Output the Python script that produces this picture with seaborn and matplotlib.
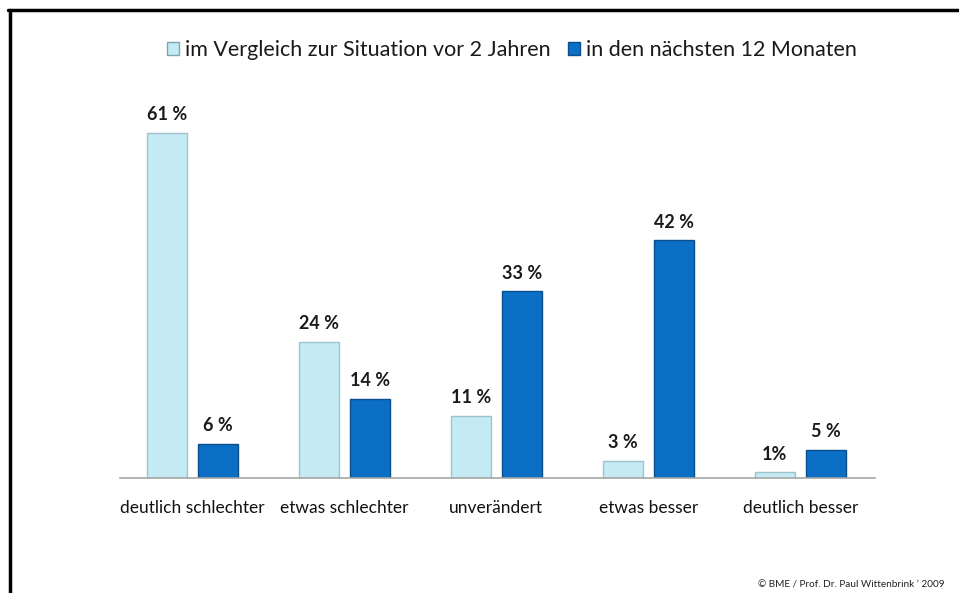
import pandas as pd
import numpy as np
import matplotlib.pyplot as plt
import seaborn as sns
from matplotlib.lines import Line2D
from matplotlib.patches import Patch

sns.set_theme(style="white")
plt.rcParams['font.family'] = ['Lato', 'DejaVu Sans']

# data
categories = ['deutlich schlechter', 'etwas schlechter', 'unverändert', 'etwas besser', 'deutlich besser']
series_names = ['im Vergleich zur Situation vor 2 Jahren', 'in den nächsten 12 Monaten']
vor_2_jahren = [61, 24, 11, 3, 1]
naechste_12_monate = [6, 14, 33, 42, 5]
labels_vor = ['61 %', '24 %', '11 %', '3 %', '1%']
labels_naechste = ['6 %', '14 %', '33 %', '42 %', '5 %']

df = pd.DataFrame({
    'Kategorie': categories * 2,
    'Reihe': [series_names[0]] * 5 + [series_names[1]] * 5,
    'Wert': vor_2_jahren + naechste_12_monate,
})

light = '#C4EAF3'
dark = '#0B6FC6'

fig = plt.figure(figsize=(9.59, 5.93), dpi=100)
ax = fig.add_axes([120 / 959, 115 / 593, 755 / 959, 378 / 593])

sns.barplot(data=df, x='Kategorie', y='Wert', hue='Reihe', order=categories,
            hue_order=series_names, palette=[light, dark], width=0.672, gap=0.217,
            ax=ax, legend=False, errorbar=None, saturation=1)

edge_cols = ['#9FC3CC', '#0A4E8C']
for cont, ec, labs in zip(ax.containers, edge_cols, [labels_vor, labels_naechste]):
    for bar in cont:
        bar.set_edgecolor(ec)
        bar.set_linewidth(1.0)
    ax.bar_label(cont, labels=labs, padding=7, fontsize=13, fontweight='bold', color='#1a1a1a')

ax.set_xlim(-0.475, 4.49)
ax.set_ylim(0, 66.8)
ax.set_xlabel('')
ax.set_ylabel('')
ax.set_yticks([])
ax.tick_params(axis='x', length=0, pad=16, labelsize=12.5, labelcolor='#111111')
for s in ['top', 'right', 'left']:
    ax.spines[s].set_visible(False)
ax.spines['bottom'].set_color('#A6A6A6')
ax.spines['bottom'].set_linewidth(1.2)

handles = [Patch(facecolor=light, edgecolor='#7FA6B0'), Patch(facecolor=dark, edgecolor='#0A4E8C')]
fig.legend(handles, series_names, loc='center', bbox_to_anchor=(512 / 959, 1 - 50 / 593),
           ncol=2, frameon=False, fontsize=15.5, handlelength=0.55, handleheight=0.55,
           handletextpad=0.3, columnspacing=0.8, labelcolor='#1a1a1a')

fig.text(945 / 959, 1 - 585 / 593, '© BME / Prof. Dr. Paul Wittenbrink \u2019 2009',
         ha='right', va='center', fontsize=7.2, color='#222222')

# frame lines at top and left
fig.add_artist(Line2D([8 / 959, 958 / 959], [1 - 10 / 593, 1 - 10 / 593], color='black', lw=2.5))
fig.add_artist(Line2D([10 / 959, 10 / 959], [1 - 10 / 593, 0], color='black', lw=2.5))

fig.savefig('out.png', dpi=100)
